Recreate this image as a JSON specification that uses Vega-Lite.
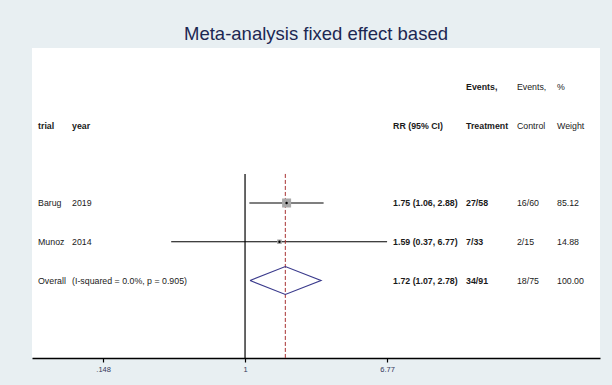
{
  "$schema": "https://vega.github.io/schema/vega-lite/v6.json",
  "width": 568,
  "height": 310,
  "autosize": {"type": "none"},
  "padding": {"left": 32, "top": 48, "right": 12, "bottom": 27},
  "background": "#e8eff2",
  "title": {
    "text": "Meta-analysis fixed effect based",
    "fontSize": 18.5,
    "font": "Liberation Sans",
    "fontWeight": "normal",
    "color": "#1c2752",
    "anchor": "middle",
    "offset": -10,
    "baseline": "alphabetic"
  },
  "config": {
    "view": {"fill": "white", "stroke": null},
    "text": {"font": "Liberation Sans"}
  },
  "datasets": {
    "table": [
      {"row": 0, "trial": "", "year": "", "rrtext": "", "treat": "Events,", "control": "Events,", "weight": "%"},
      {"row": 1, "trial": "trial", "year": "year", "rrtext": "RR (95% CI)", "treat": "Treatment", "control": "Control", "weight": "Weight"},
      {"row": 3, "trial": "Barug", "year": "2019", "rrtext": "1.75 (1.06, 2.88)", "treat": "27/58", "control": "16/60", "weight": "85.12"},
      {"row": 4, "trial": "Munoz", "year": "2014", "rrtext": "1.59 (0.37, 6.77)", "treat": "7/33", "control": "2/15", "weight": "14.88"},
      {"row": 5, "trial": "Overall", "year": "(I-squared = 0.0%, p = 0.905)", "rrtext": "1.72 (1.07, 2.78)", "treat": "34/91", "control": "18/75", "weight": "100.00"}
    ],
    "studies": [
      {"row": 3, "rr": 1.75, "lo": 1.06, "hi": 2.88, "w": 85.12},
      {"row": 4, "rr": 1.59, "lo": 0.37, "hi": 6.77, "w": 14.88}
    ],
    "refs": [
      {"v": 1, "top": 2.25, "bottom": 7, "kind": "null"},
      {"v": 1.72, "top": 2.25, "bottom": 7, "kind": "overall"}
    ],
    "diamond": [
      {"ord": 1, "v": 1.07, "r": 5},
      {"ord": 2, "v": 1.72, "r": 4.64},
      {"ord": 3, "v": 2.78, "r": 5},
      {"ord": 4, "v": 1.72, "r": 5.36},
      {"ord": 5, "v": 1.07, "r": 5}
    ]
  },
  "layer": [
    {
      "data": {"name": "studies"},
      "mark": {"type": "rule", "color": "black", "strokeWidth": 1.2},
      "encoding": {
        "x": {
          "field": "lo", "type": "quantitative",
          "scale": {"type": "log", "domain": [0.0568, 119], "nice": false},
          "axis": {
            "values": [0.148, 1, 6.77],
            "title": null,
            "grid": false,
            "labelExpr": "datum.value < 1 ? slice(format(datum.value, '.3f'), 1) : format(datum.value, '~g')",
            "domainColor": "black",
            "domainWidth": 1.5,
            "ticks": true,
            "tickColor": "black",
            "tickWidth": 1.2,
            "tickSize": 4,
            "labelFontSize": 7.5,
            "labelFont": "Liberation Sans",
            "labelColor": "#33385a",
            "labelPadding": 3,
            "labelFlush": false
          }
        },
        "x2": {"field": "hi"},
        "y": {"field": "row", "type": "quantitative", "scale": {"domain": [-1, 7], "reverse": true, "nice": false, "zero": false}, "axis": null}
      }
    },
    {
      "data": {"name": "refs"},
      "transform": [{"filter": "datum.kind == 'null'"}],
      "mark": {"type": "rule", "color": "black", "strokeWidth": 1.2},
      "encoding": {
        "x": {"field": "v", "type": "quantitative"},
        "y": {"field": "top", "type": "quantitative", "axis": null},
        "y2": {"field": "bottom"}
      }
    },
    {
      "data": {"name": "refs"},
      "transform": [{"filter": "datum.kind == 'overall'"}],
      "mark": {"type": "rule", "color": "#a83232", "strokeWidth": 1, "strokeDash": [4, 2]},
      "encoding": {
        "x": {"field": "v", "type": "quantitative"},
        "y": {"field": "top", "type": "quantitative", "axis": null},
        "y2": {"field": "bottom"}
      }
    },
    {
      "data": {"name": "studies"},
      "mark": {"type": "point", "shape": "square", "filled": true, "color": "#a9a9a9", "opacity": 1},
      "encoding": {
        "x": {"field": "rr", "type": "quantitative"},
        "y": {"field": "row", "type": "quantitative", "axis": null},
        "size": {"field": "w", "type": "quantitative", "scale": {"domain": [0, 100], "range": [8, 94]}, "legend": null}
      }
    },
    {
      "data": {"name": "studies"},
      "mark": {"type": "point", "shape": "circle", "filled": true, "color": "black", "size": 6, "opacity": 1},
      "encoding": {
        "x": {"field": "rr", "type": "quantitative"},
        "y": {"field": "row", "type": "quantitative", "axis": null}
      }
    },
    {
      "data": {"name": "diamond"},
      "mark": {"type": "line", "color": "#3a3a8c", "strokeWidth": 1.2},
      "encoding": {
        "x": {"field": "v", "type": "quantitative"},
        "y": {"field": "r", "type": "quantitative", "axis": null},
        "order": {"field": "ord", "type": "quantitative"}
      }
    },
    {
      "data": {"name": "table"},
      "transform": [{"filter": "datum.row < 2"}],
      "mark": {"type": "text", "align": "left", "baseline": "middle", "fontSize": 8.8, "fontWeight": "bold", "color": "#1a1a1a"},
      "encoding": {
        "x": {"datum": 0.0616},
        "y": {"field": "row", "type": "quantitative", "axis": null},
        "text": {"field": "trial"}
      }
    },
    {
      "data": {"name": "table"},
      "transform": [{"filter": "datum.row < 2"}],
      "mark": {"type": "text", "align": "left", "baseline": "middle", "fontSize": 8.8, "fontWeight": "bold", "color": "#1a1a1a"},
      "encoding": {
        "x": {"datum": 0.0974},
        "y": {"field": "row", "type": "quantitative", "axis": null},
        "text": {"field": "year"}
      }
    },
    {
      "data": {"name": "table"},
      "transform": [{"filter": "datum.row >= 2"}],
      "mark": {"type": "text", "align": "left", "baseline": "middle", "fontSize": 8.8, "color": "#1a1a1a"},
      "encoding": {
        "x": {"datum": 0.0616},
        "y": {"field": "row", "type": "quantitative", "axis": null},
        "text": {"field": "trial"}
      }
    },
    {
      "data": {"name": "table"},
      "transform": [{"filter": "datum.row >= 2"}],
      "mark": {"type": "text", "align": "left", "baseline": "middle", "fontSize": 8.8, "color": "#1a1a1a"},
      "encoding": {
        "x": {"datum": 0.0974},
        "y": {"field": "row", "type": "quantitative", "axis": null},
        "text": {"field": "year"}
      }
    },
    {
      "data": {"name": "table"},
      "mark": {"type": "text", "align": "left", "baseline": "middle", "fontSize": 8.8, "fontWeight": "bold", "color": "#1a1a1a"},
      "encoding": {
        "x": {"datum": 7.34},
        "y": {"field": "row", "type": "quantitative", "axis": null},
        "text": {"field": "rrtext"}
      }
    },
    {
      "data": {"name": "table"},
      "mark": {"type": "text", "align": "left", "baseline": "middle", "fontSize": 8.8, "fontWeight": "bold", "color": "#1a1a1a"},
      "encoding": {
        "x": {"datum": 19.6},
        "y": {"field": "row", "type": "quantitative", "axis": null},
        "text": {"field": "treat"}
      }
    },
    {
      "data": {"name": "table"},
      "mark": {"type": "text", "align": "left", "baseline": "middle", "fontSize": 8.8, "color": "#1a1a1a"},
      "encoding": {
        "x": {"datum": 38.9},
        "y": {"field": "row", "type": "quantitative", "axis": null},
        "text": {"field": "control"}
      }
    },
    {
      "data": {"name": "table"},
      "mark": {"type": "text", "align": "left", "baseline": "middle", "fontSize": 8.8, "color": "#1a1a1a"},
      "encoding": {
        "x": {"datum": 66.7},
        "y": {"field": "row", "type": "quantitative", "axis": null},
        "text": {"field": "weight"}
      }
    }
  ]
}
